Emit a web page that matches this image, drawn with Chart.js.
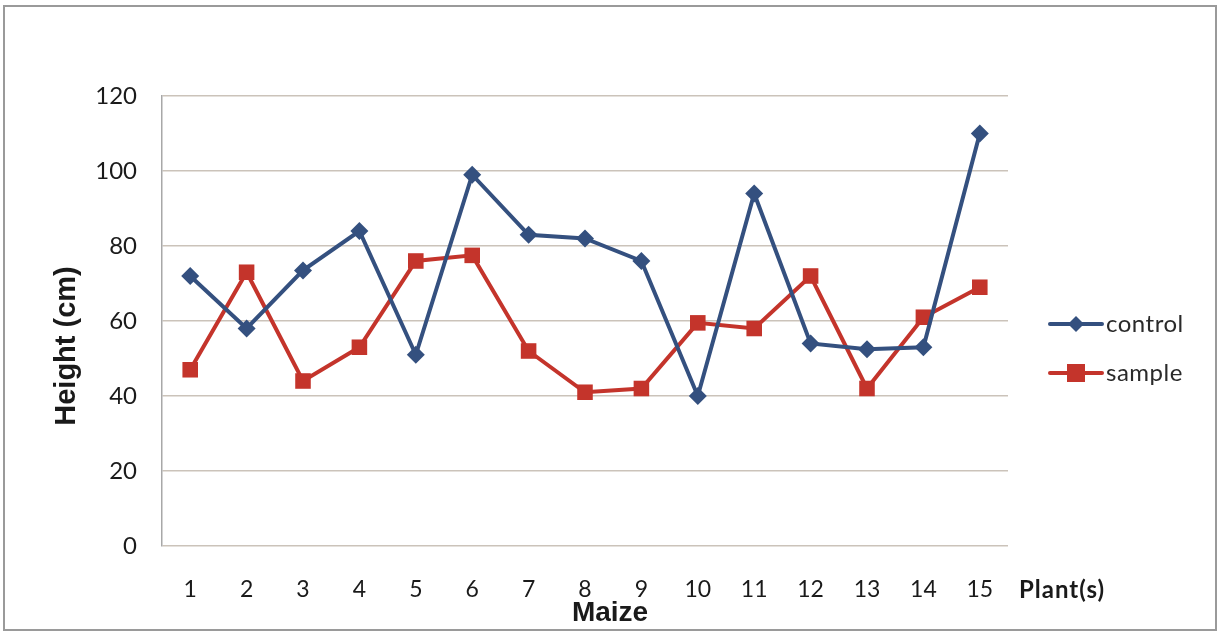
<!DOCTYPE html>
<html>
<head>
<meta charset="utf-8">
<script src="https://cdn.jsdelivr.net/npm/chart.js@4"></script>
<style>
  html, body { margin: 0; padding: 0; background: #ffffff; }
  #wrap { width: 1222px; height: 632px; position: relative; }
</style>
</head>
<body>
<div id="wrap"><canvas id="c" width="1222" height="632"></canvas></div>
<script>
// Plant numbers along the x axis
const plants = ['1','2','3','4','5','6','7','8','9','10','11','12','13','14','15'];
// Plant height (cm) per group
const control = [72, 58, 73.5, 84, 51, 99, 83, 82, 76, 40, 94, 54, 52.5, 53, 110];
const sample  = [47, 73, 44, 53, 76, 77.5, 52, 41, 42, 59.5, 58, 72, 42, 61, 69];
const yTicks = [0, 20, 40, 60, 80, 100, 120];

const BLUE = '#34507f';
const RED = '#c4342b';
const FONT = 'Lato, "Open Sans", sans-serif';

// Frame, axis captions and the line-with-marker legend
const decorations = {
  id: 'decorations',
  beforeDraw(chart) {
    const ctx = chart.ctx;
    ctx.save();
    ctx.fillStyle = '#ffffff';
    ctx.fillRect(0, 0, chart.width, chart.height);
    ctx.strokeStyle = '#9a9a9a';
    ctx.lineWidth = 2;
    ctx.strokeRect(4, 6, 1212, 624);
    ctx.restore();
  },
  afterDraw(chart) {
    const ctx = chart.ctx;
    const area = chart.chartArea;
    ctx.save();
    ctx.fillStyle = '#1a1a1a';
    // y axis caption
    ctx.font = 'bold 29px "Liberation Sans", Arial, sans-serif';
    ctx.textAlign = 'center';
    ctx.textBaseline = 'middle';
    ctx.translate(67, 346);
    ctx.rotate(-Math.PI / 2);
    ctx.fillText('Height (cm)', 0, 0);
    ctx.restore();

    ctx.save();
    ctx.fillStyle = '#1a1a1a';
    ctx.font = 'bold 28px "Liberation Sans", Arial, sans-serif';
    ctx.textAlign = 'center';
    ctx.textBaseline = 'middle';
    ctx.fillText('Maize', 610, 613);
    ctx.font = 'bold 24px ' + FONT;
    ctx.letterSpacing = '1px';
    ctx.textAlign = 'left';
    ctx.fillText('Plant(s)', 1019, 590);
    ctx.letterSpacing = '0px';

    // legend
    const items = [
      { label: 'control', color: BLUE, style: 'diamond', y: 324 },
      { label: 'sample', color: RED, style: 'square', y: 373 }
    ];
    items.forEach(it => {
      ctx.strokeStyle = it.color;
      ctx.fillStyle = it.color;
      ctx.lineWidth = 4;
      ctx.lineCap = 'round';
      ctx.beginPath();
      ctx.moveTo(1050, it.y);
      ctx.lineTo(1102, it.y);
      ctx.stroke();
      const cx = 1076;
      if (it.style === 'diamond') {
        ctx.beginPath();
        ctx.moveTo(cx, it.y - 8);
        ctx.lineTo(cx + 8, it.y);
        ctx.lineTo(cx, it.y + 8);
        ctx.lineTo(cx - 8, it.y);
        ctx.closePath();
        ctx.fill();
      } else {
        ctx.fillRect(cx - 9, it.y - 9, 18, 18);
      }
      ctx.fillStyle = '#2a2a2a';
      ctx.font = '24px ' + FONT;
      ctx.letterSpacing = '0.5px';
      ctx.textAlign = 'left';
      ctx.textBaseline = 'middle';
      ctx.fillText(it.label, 1106, it.y);
      ctx.letterSpacing = '0px';
    });
    ctx.restore();
  }
};

new Chart(document.getElementById('c'), {
  type: 'line',
  data: {
    labels: plants,
    datasets: [
      {
        label: 'control',
        data: control,
        borderColor: BLUE,
        backgroundColor: BLUE,
        borderWidth: 4,
        pointStyle: 'rectRot',
        pointRadius: 9,
        pointHoverRadius: 9,
        pointBorderWidth: 0,
        tension: 0
      },
      {
        label: 'sample',
        data: sample,
        borderColor: RED,
        backgroundColor: RED,
        borderWidth: 4,
        pointStyle: 'rect',
        pointRadius: 11,
        pointHoverRadius: 11,
        pointBorderWidth: 0,
        tension: 0
      }
    ]
  },
  options: {
    responsive: false,
    animation: false,
    devicePixelRatio: 1,
    layout: { padding: { left: 0, right: 214, top: 96, bottom: 0 } },
    plugins: {
      legend: { display: false },
      tooltip: { enabled: false }
    },
    scales: {
      x: {
        type: 'category',
        offset: true,
        afterFit(scale) { scale.height = 86; },
        grid: { display: false, drawTicks: false },
        border: { display: false },
        ticks: {
          color: '#1a1a1a',
          font: { family: FONT, size: 23 },
          padding: 30,
          maxRotation: 0,
          autoSkip: false
        }
      },
      y: {
        min: 0,
        max: 120,
        afterFit(scale) { scale.width = 162; },
        afterBuildTicks(scale) { scale.ticks = yTicks.map(v => ({ value: v })); },
        grid: { color: '#cbc3ba', lineWidth: 1.5, drawTicks: false },
        border: { display: true, color: '#a8a8a8', width: 1.5 },
        ticks: {
          color: '#1a1a1a',
          font: { family: FONT, size: 24 },
          padding: 25
        }
      }
    }
  },
  plugins: [decorations]
});
</script>
</body>
</html>
